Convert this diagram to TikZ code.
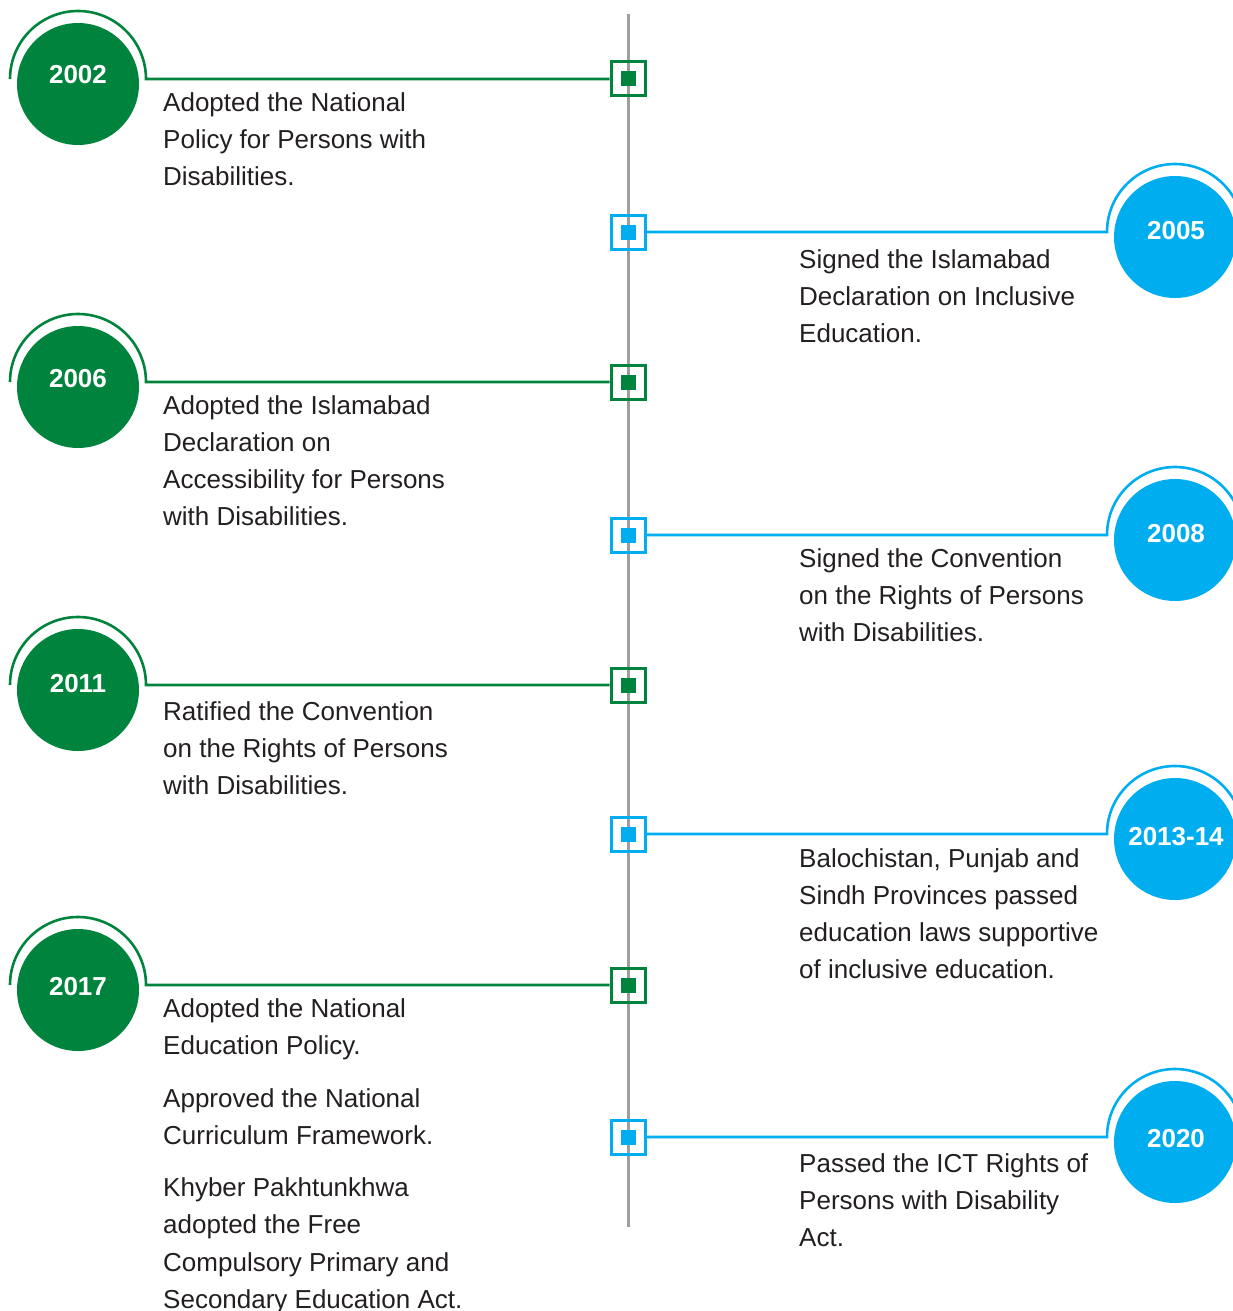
\documentclass[tikz,border=0pt]{standalone}
\usepackage{fontspec}
\setmainfont{Liberation Sans}
\definecolor{tlgreen}{RGB}{0,132,61}
\definecolor{tlblue}{RGB}{0,174,239}
\definecolor{tlgray}{RGB}{158,158,162}
\definecolor{tltext}{RGB}{35,31,32}

\begin{document}
\begin{tikzpicture}[x=1pt,y=-1pt,
  yeardisc/.style={circle, inner sep=0pt, minimum size=122pt},
  yearlabel/.style={text=white, inner sep=0pt, font=\bfseries\fontsize{26}{30}\selectfont},
  outerbox/.style={draw, line width=3pt, minimum size=34pt, inner sep=0pt},
  innerbox/.style={minimum size=15pt, inner sep=0pt},
  link/.style={line width=2.6pt},
  desc/.style={anchor=north west, inner sep=0pt, align=left, yshift=25.9pt,
               text=tltext, font=\fontsize{26}{37}\selectfont}
]
\useasboundingbox (0,0) rectangle (1233,1311);
\clip (0,0) rectangle (1233,1311);

% central time axis
\coordinate (axistop) at (628,14);
\coordinate (axisbot) at (628,1227);
\draw[tlgray, line width=3pt] (axistop) -- (axisbot);

% events on the left (green)
\foreach \k/\yr/\Y/\T in {1/2002/79/75, 2/2006/382/379, 3/2011/685/684, 4/2017/985/987}{
  \node[yeardisc, fill=tlgreen] (ld\k) at (78,\Y+5) {};
  \node[yearlabel] (ly\k) at (78,\T) {\yr};
  \node[outerbox, draw=tlgreen] (ls\k) at (628,\Y) {};
  \node[innerbox, fill=tlgreen] (li\k) at (ls\k) {};
  \coordinate (la\k) at (146,\Y);
  \draw[link, tlgreen] (ls\k.west) -- (la\k) arc[start angle=0, end angle=-180, radius=68];
}

% events on the right (blue)
\foreach \k/\yr/\Y/\T in {1/2005/232/231, 2/2008/535/534, 3/2013-14/834/837, 4/2020/1137/1139}{
  \node[yeardisc, fill=tlblue] (rd\k) at (1175,\Y+5) {};
  \node[yearlabel] (ry\k) at (1176,\T) {\yr};
  \node[outerbox, draw=tlblue] (rs\k) at (628,\Y) {};
  \node[innerbox, fill=tlblue] (ri\k) at (rs\k) {};
  \coordinate (ra\k) at (1107,\Y);
  \draw[link, tlblue] (rs\k.east) -- (ra\k) arc[start angle=180, end angle=360, radius=68];
}

% descriptions
\node[desc] (lt1) at (163,111) {\strut Adopted the National\\Policy for Persons with\\Disabilities.};
\node[desc] (lt2) at (163,414) {\strut Adopted the Islamabad\\Declaration on\\Accessibility for Persons\\with Disabilities.};
\node[desc] (lt3) at (163,720) {\strut Ratified the Convention\\on the Rights of Persons\\with Disabilities.};
\node[desc, font=\fontsize{26}{37.5}\selectfont, yshift=0.35pt] (lt4) at (163,1017) {\strut Adopted the National\\Education Policy.\\[15pt]Approved the National\\Curriculum Framework.\\[14pt]Khyber Pakhtunkhwa\\adopted the Free\\Compulsory Primary and\\Secondary Education Act.};

\node[desc] (rt1) at (799,268) {\strut Signed the Islamabad\\Declaration on Inclusive\\Education.};
\node[desc] (rt2) at (799,567) {\strut Signed the Convention\\on the Rights of Persons\\with Disabilities.};
\node[desc] (rt3) at (799,867) {\strut Balochistan, Punjab and\\Sindh Provinces passed\\education laws supportive\\of inclusive education.};
\node[desc] (rt4) at (799,1172) {\strut Passed the ICT Rights of\\Persons with Disability\\Act.};
\end{tikzpicture}
\end{document}
